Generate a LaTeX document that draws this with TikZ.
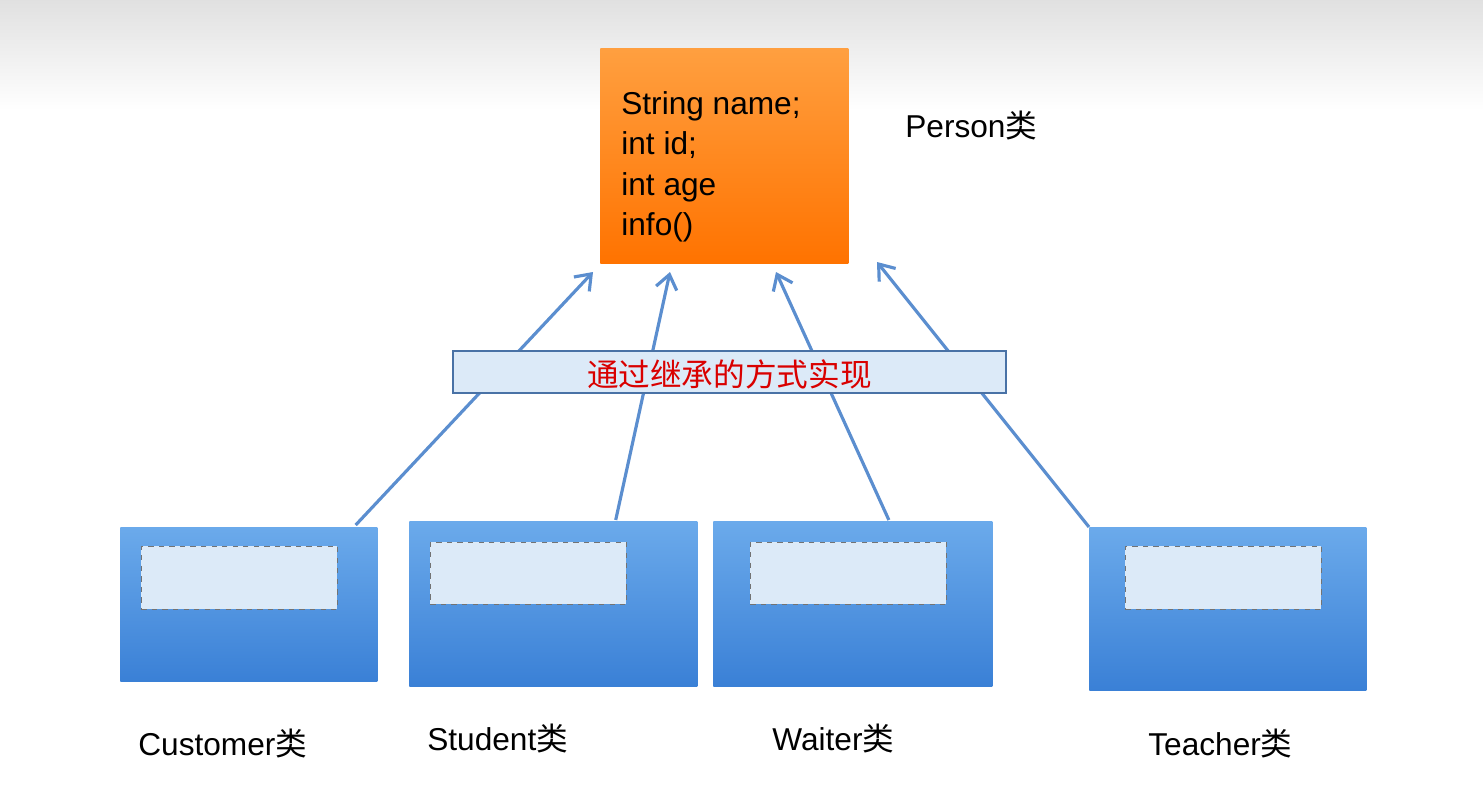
\documentclass[tikz,border=0pt]{standalone}
\usepackage{fontspec}
\setmainfont{Liberation Sans}
\newfontfamily\cjk{Noto Sans CJK SC}
\usetikzlibrary{arrows.meta,calc}
\definecolor{boxtop}{HTML}{6BAAEB}
\definecolor{boxbot}{HTML}{3A80D6}
\definecolor{paleblue}{HTML}{DCEAF8}
\definecolor{linkblue}{HTML}{5B8ECF}
\tikzset{
  cls/.style = {draw=none, top color=boxtop, bottom color=boxbot,
                inner sep=0pt, anchor=north west},
  slot/.style = {draw=black!55, dashed, fill=paleblue,
                 inner sep=0pt, anchor=north west},
  lbl/.style = {anchor=west, inner sep=0pt, font=\fontsize{18}{20}\selectfont},
  link/.style = {draw=linkblue, line width=1.8pt,
                 -{Straight Barb[length=8pt,width=12pt]}}
}
\begin{document}
\begin{tikzpicture}[x=0.02cm, y=-0.02cm]
	\useasboundingbox (0,0) rectangle (1483,789);
	\fill[top color=black!12, bottom color=white] (0,0) rectangle (1483,110);
	
	% Person
	\node[cls, top color=orange!75!white, bottom color=orange!90!red,
	      minimum width=248*0.02cm, minimum height=215*0.02cm] (person) at (600,48) {};
	\node[anchor=north west, align=left, inner sep=0pt,
	      font=\fontsize{18}{23}\selectfont] (fields) at (621,91)
	      {String name;\\int id;\\int age\\info()};
	\node[lbl] (plbl) at (905,125) {Person{\cjk 类}};
	
	% Subclasses
	\node[cls, minimum width=257*0.02cm, minimum height=154*0.02cm] (cust) at (120,527) {};
	\node[cls, minimum width=288*0.02cm, minimum height=165*0.02cm] (stud) at (409,521) {};
	\node[cls, minimum width=279*0.02cm, minimum height=165*0.02cm] (wait) at (713,521) {};
	\node[cls, minimum width=277*0.02cm, minimum height=163*0.02cm] (teach) at (1089,527) {};
	
	\node[slot, minimum width=196*0.02cm, minimum height=63*0.02cm] (s1) at (141,546) {};
	\node[slot, minimum width=196*0.02cm, minimum height=62*0.02cm] (s2) at (430,542) {};
	\node[slot, minimum width=196*0.02cm, minimum height=62*0.02cm] (s3) at (750,542) {};
	\node[slot, minimum width=196*0.02cm, minimum height=63*0.02cm] (s4) at (1125,546) {};
	
	\node[lbl] (l1) at (138,743) {Customer{\cjk 类}};
	\node[lbl] (l2) at (427,738) {Student{\cjk 类}};
	\node[lbl] (l3) at (772,738) {Waiter{\cjk 类}};
	\node[lbl] (l4) at (1148,743) {Teacher{\cjk 类}};
	
	% Links
	\coordinate (t1) at (593,272);
	\coordinate (t2) at (670,272);
	\coordinate (t3) at (776,272);
	\coordinate (t4) at (877,262);
	\draw[link] ($(cust.north east)+(-22,-2)$) -- (t1);
	\draw[link] ($(stud.north east)+(-82,-1)$) -- (t2);
	\draw[link] ($(wait.north)+(36,-1)$) -- (t3);
	\draw[link] (teach.north west) -- (t4);
	
	% Banner
	\node[draw=linkblue!80!black, line width=1pt, fill=paleblue, anchor=north west, inner sep=0pt,
	      minimum width=553*0.02cm, minimum height=42*0.02cm] (band) at (452,350) {};
	\node[text=red!85!black, font=\cjk\fontsize{18}{20}\selectfont] (btxt)
	      at ($(band.center)+(0,3)$) {通过继承的方式实现};
\end{tikzpicture}
\end{document}
